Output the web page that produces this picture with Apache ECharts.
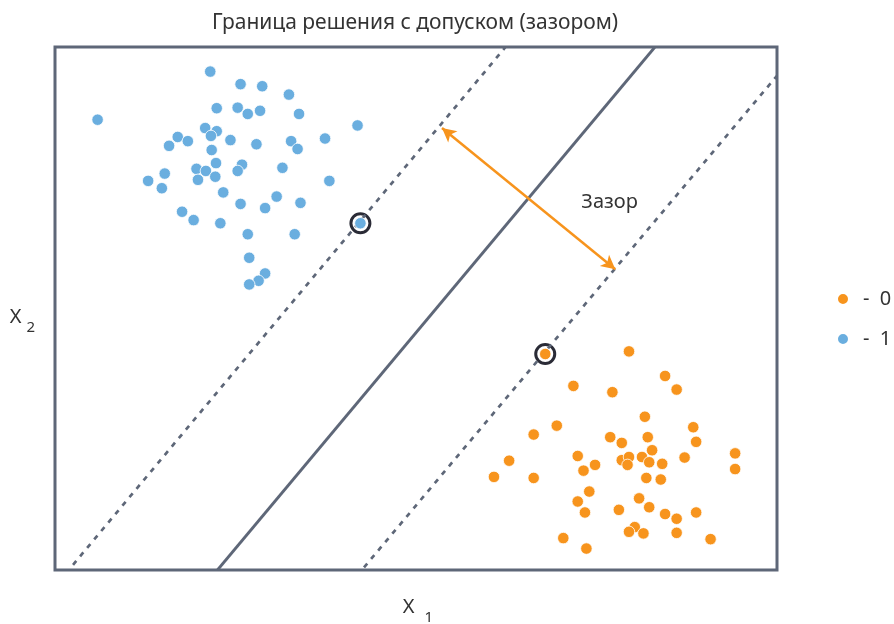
<!DOCTYPE html>
<html>
<head>
<meta charset="utf-8">
<script src="https://cdn.jsdelivr.net/npm/echarts@6/dist/echarts.min.js"></script>
<style>html,body{margin:0;padding:0;background:#fff}#c{width:894px;height:624px}</style>
</head>
<body>
<div id="c"></div>
<script>
// Class 1 (blue) points
var class1 = [
  [2.15,9.53],[2.57,9.29],[2.87,9.25],[3.24,9.09],[0.59,8.61],[2.24,8.83],[2.53,8.84],[2.67,8.72],
  [2.84,8.78],[3.38,8.72],[4.19,8.50],[2.08,8.45],[2.24,8.39],[2.16,8.30],[1.70,8.28],[1.84,8.20],
  [1.58,8.11],[2.43,8.22],[2.79,8.14],[3.27,8.20],[3.36,8.05],[3.74,8.25],[2.17,8.03],[2.23,7.78],
  [1.96,7.67],[2.09,7.63],[1.98,7.46],[2.22,7.52],[2.59,7.75],[2.53,7.63],[3.15,7.69],[1.52,7.58],
  [1.29,7.44],[1.48,7.30],[3.80,7.44],[2.33,7.22],[3.07,7.14],[2.57,7.00],[2.91,6.92],[3.40,7.02],
  [1.76,6.85],[1.92,6.69],[2.29,6.63],[2.67,6.42],[3.32,6.42],[2.69,5.97],[2.91,5.67],[2.82,5.53],
  [2.69,5.46],[4.23,6.63]
];
// Class 0 (orange) points
var class0 = [
  [6.79,4.13],[7.95,4.18],[8.45,3.71],[8.61,3.45],[7.18,3.52],[7.72,3.40],[8.17,2.93],[8.84,2.73],
  [8.88,2.45],[6.95,2.76],[6.63,2.59],[7.69,2.54],[7.85,2.43],[8.21,2.54],[8.27,2.29],[6.29,2.09],
  [6.08,1.78],[6.63,1.76],[7.24,2.18],[7.48,2.01],[7.32,1.90],[7.85,2.10],[7.95,2.16],[7.93,2.01],
  [8.13,2.16],[8.23,2.06],[8.41,2.03],[8.72,2.15],[8.19,1.76],[8.39,1.73],[9.42,2.23],[9.42,1.93],
  [7.40,1.50],[7.24,1.31],[7.34,1.10],[8.09,1.37],[8.23,1.20],[7.81,1.15],[8.45,1.07],[8.61,0.98],
  [8.88,1.10],[8.03,0.82],[7.95,0.73],[8.15,0.70],[8.61,0.71],[7.04,0.61],[9.08,0.59],[7.36,0.41]
];
// Support vectors (circled)
var supportVectors = [[4.23,6.63],[6.79,4.13]];
// Decision boundary and margins
var boundaryLine = [[2.25,0],[8.31,10]];
var marginUpper = [[0.25,0.1],[6.24,10]];
var marginLower = [[4.28,0.05],[10,9.45]];
// Margin arrow endpoints and label
var marginArrow = [[5.36,8.45],[7.76,5.75]];
var marginLabel = [[7.29,7.04]];
var legendNames = ['- 0','- 1'];

var slate = '#5e6778';
var orange = '#f7941d';
var blue = '#6aaedf';
var font = 'Noto Sans';

function subRich(gap) {
  return {
    x: {fontSize: 20, fontFamily: font, color: '#333', verticalAlign: 'top', lineHeight: 20},
    s: {fontSize: 15, fontFamily: font, color: '#333', padding: [21,0,0,gap], lineHeight: 20}
  };
}

var chart = echarts.init(document.getElementById('c'));
chart.setOption({
  animation: false,
  textStyle: {fontFamily: font},
  title: {
    text: 'Граница решения с допуском (зазором)',
    left: 410, top: 8, textAlign: 'center',
    textStyle: {fontFamily: font, fontSize: 21, fontWeight: 'normal', color: '#333'}
  },
  legend: {
    orient: 'vertical', left: 831, top: 284, padding: 5,
    itemWidth: 12, itemHeight: 12, itemGap: 20, icon: 'circle',
    data: legendNames,
    formatter: function (n) { return n.replace(' ', '  '); },
    textStyle: {fontFamily: font, fontSize: 20, color: '#333', padding: [0,0,0,9]}
  },
  grid: {left: 55, top: 47, width: 722, height: 523, show: true, borderColor: slate, borderWidth: 3,
    backgroundColor: 'transparent', containLabel: false, outerBoundsMode: 'none'},
  xAxis: {
    type: 'value', min: 0, max: 10,
    axisLine: {show: false}, axisTick: {show: false}, axisLabel: {show: false}, splitLine: {show: false},
    name: '{x|X}{s|1}', nameLocation: 'middle', nameGap: 27,
    nameTextStyle: {color: '#333', padding: [0,0,0,4], rich: subRich(10)}
  },
  yAxis: {
    type: 'value', min: 0, max: 10,
    axisLine: {show: false}, axisTick: {show: false}, axisLabel: {show: false}, splitLine: {show: false},
    name: '{x|X}{s|2}', nameLocation: 'middle', nameGap: 20, nameRotate: 0,
    nameTextStyle: {color: '#333', padding: [17,0,0,0], rich: subRich(5)}
  },
  series: [
    {type: 'line', data: marginUpper, symbol: 'none', silent: true, lineStyle: {color: slate, width: 2.7, type: [5,6]}},
    {type: 'line', data: marginLower, symbol: 'none', silent: true, lineStyle: {color: slate, width: 2.7, type: [5,6]}},
    {type: 'line', data: boundaryLine, symbol: 'none', silent: true, lineStyle: {color: slate, width: 2.8},
      markLine: {silent: true, symbol: ['arrow','arrow'], symbolSize: [11,14], label: {show: false},
        lineStyle: {color: orange, width: 2.5, type: 'solid'},
        data: [[{coord: marginArrow[0]}, {coord: marginArrow[1]}]]}},
    {type: 'scatter', data: supportVectors, symbol: 'circle', symbolSize: 19, silent: true, z: 1,
      itemStyle: {color: '#ffffff', borderColor: '#2a2b36', borderWidth: 3, opacity: 1}},
    {name: '- 0', type: 'scatter', data: class0, symbolSize: 11.5, z: 4, itemStyle: {color: orange, borderColor: '#fff', borderWidth: 0.8, opacity: 1}},
    {name: '- 1', type: 'scatter', data: class1, symbolSize: 11.5, z: 4, itemStyle: {color: blue, borderColor: '#fff', borderWidth: 0.8, opacity: 1}},
    {type: 'scatter', data: marginLabel, symbolSize: 0, silent: true, itemStyle: {opacity: 1},
      label: {show: true, position: 'right', distance: 0, formatter: 'Зазор', fontFamily: font, fontSize: 20, color: '#333'}}
  ]
});
</script>
</body>
</html>
